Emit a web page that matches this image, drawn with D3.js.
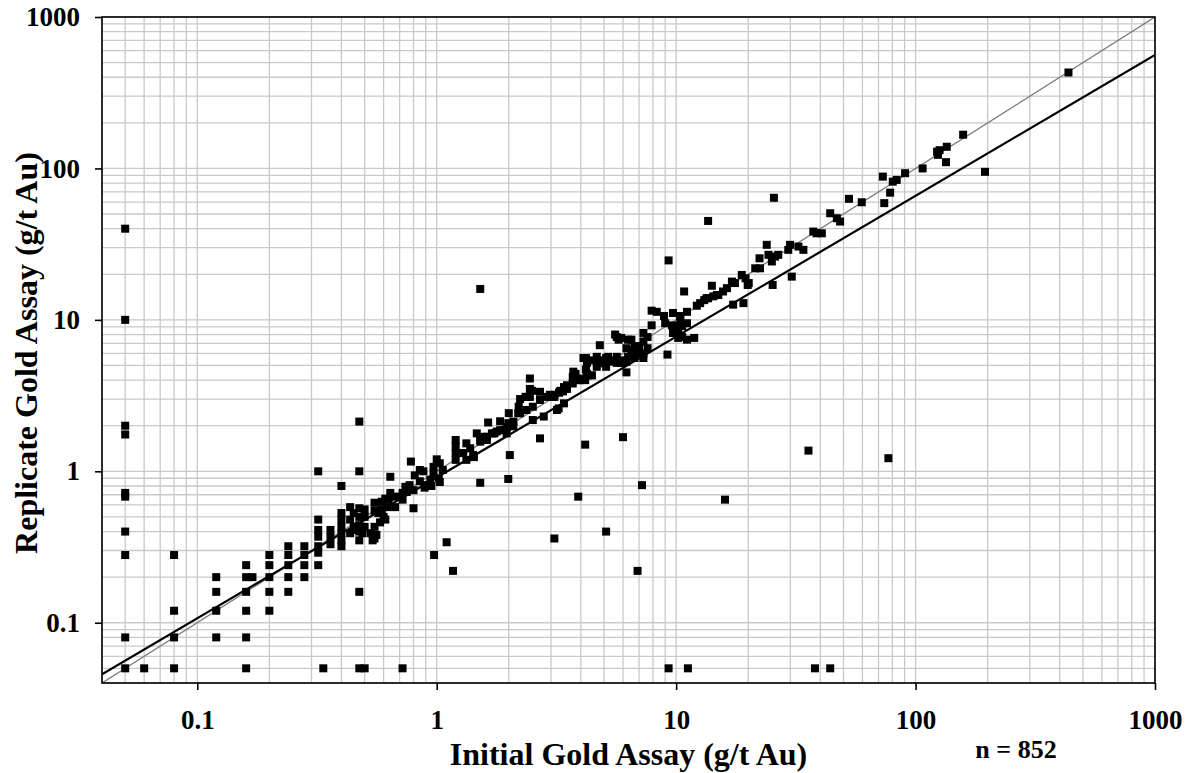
<!DOCTYPE html>
<html>
<head>
<meta charset="utf-8">
<script src="https://cdn.jsdelivr.net/npm/d3@7"></script>
<style>
  html, body { margin: 0; padding: 0; background: #fff; }
  svg { display: block; }
  text { font-family: "Liberation Serif", "Times New Roman", serif; font-weight: bold; fill: #000; }
</style>
</head>
<body>
<svg id="chart" width="1192" height="773"></svg>
<script>
// Axis setup (g/t Au, log scale on both axes)
const axisDomain = [0.04, 1000];
const majorTicks = [0.1, 1, 10, 100, 1000];
const tickLabels = ["0.1", "1", "10", "100", "1000"];
const xTitle = "Initial Gold Assay (g/t Au)";
const yTitle = "Replicate Gold Assay (g/t Au)";
const sampleCount = 852;

// Fitted line: replicate = fitCoef * initial ^ fitExponent
const fitCoef = 0.91;
const fitExponent = 0.93;

// [initial, replicate] pairs near the detection limit
const lowPairs = [
  [0.05, 40], [0.05, 10], [0.05, 2.0], [0.05, 1.75], [0.05, 0.72], [0.05, 0.68],
  [0.05, 0.4], [0.05, 0.28], [0.05, 0.08], [0.05, 0.05], [0.06, 0.05],
  [0.08, 0.28], [0.08, 0.12], [0.08, 0.08], [0.08, 0.05],
  [0.12, 0.2], [0.12, 0.16], [0.12, 0.12], [0.12, 0.08],
  [0.16, 0.24], [0.16, 0.2], [0.17, 0.2], [0.16, 0.16], [0.16, 0.12], [0.16, 0.08], [0.16, 0.05],
  [0.2, 0.28], [0.2, 0.24], [0.2, 0.2], [0.2, 0.16], [0.2, 0.12],
  [0.24, 0.32], [0.24, 0.28], [0.24, 0.24], [0.24, 0.2], [0.24, 0.16],
  [0.28, 0.32], [0.28, 0.28], [0.28, 0.24], [0.28, 0.2],
  [0.32, 1.0], [0.32, 0.48], [0.32, 0.41], [0.32, 0.37], [0.32, 0.32], [0.32, 0.29], [0.32, 0.24],
  [0.36, 0.41], [0.36, 0.37], [0.36, 0.33],
  [0.4, 0.8], [0.4, 0.53], [0.4, 0.48], [0.4, 0.43], [0.4, 0.39], [0.4, 0.35], [0.4, 0.32],
  [0.435, 0.58], [0.45, 0.53], [0.435, 0.48], [0.45, 0.43], [0.435, 0.39], [0.46, 0.41],
  [0.475, 2.13], [0.475, 1.0], [0.475, 0.57], [0.475, 0.5], [0.475, 0.44], [0.475, 0.4],
  [0.475, 0.35], [0.475, 0.16], [0.475, 0.05], [0.5, 0.05], [0.336, 0.05], [0.72, 0.05],
  [0.49, 0.39], [0.5, 0.43], [0.53, 0.39], [0.56, 0.38], [0.54, 0.35], [0.5, 0.56], [0.5, 0.5]
];

// [initial, replicate] pairs between about 0.5 and 4 g/t
const midPairs = [
  [0.55, 0.62], [0.55, 0.55], [0.55, 0.43], [0.55, 0.36],
  [0.57, 0.53], [0.58, 0.46], [0.59, 0.56], [0.59, 0.63], [0.6, 0.5], [0.61, 0.48],
  [0.61, 0.66], [0.62, 0.58], [0.63, 0.65], [0.64, 0.72], [0.66, 0.68], [0.67, 0.58],
  [0.64, 0.92], [0.7, 0.68], [0.72, 0.72], [0.72, 0.65], [0.74, 0.79], [0.75, 0.73],
  [0.77, 0.81], [0.8, 0.75], [0.81, 0.94], [0.85, 1.02], [0.85, 0.86],
  [0.78, 1.16], [0.8, 0.57], [0.88, 1.0],
  [1.0, 1.2], [1.03, 1.13], [0.97, 1.07], [1.06, 1.02], [0.97, 0.97], [1.02, 0.9],
  [0.94, 0.88], [1.03, 0.85], [0.91, 0.81], [0.89, 0.78], [0.95, 0.8],
  [1.2, 1.61], [1.2, 1.46], [1.2, 1.32], [1.2, 1.19],
  [1.64, 2.1], [1.84, 2.14], [1.99, 2.08], [2.09, 1.98], [2.19, 2.42],
  [1.47, 1.78], [1.57, 1.69], [1.52, 1.57], [1.62, 1.61], [1.7, 1.78], [1.78, 1.83],
  [1.9, 1.87], [1.96, 1.78], [1.33, 1.53], [1.38, 1.42], [1.29, 1.32], [1.42, 1.28],
  [1.33, 1.19], [1.43, 1.24], [1.52, 1.61], [1.62, 1.69], [1.74, 1.78], [1.84, 1.87], [1.96, 1.96],
  [2.09, 2.13], [2.23, 2.42], [2.37, 2.54], [2.52, 2.67], [2.7, 2.96], [2.88, 3.1],
  [3.27, 3.37], [3.7, 3.8], [2.52, 2.18], [2.8, 2.3], [3.18, 2.54], [3.4, 2.81],
  [2.37, 3.1], [2.2, 2.67], [2.0, 2.42], [2.23, 3.0],
  [2.45, 4.1], [2.45, 3.5], [2.45, 3.1], [2.5, 3.4], [2.7, 3.35], [2.35, 3.1],
  [2.97, 3.2], [3.1, 3.1], [3.5, 3.5], [3.3, 3.4], [3.24, 3.3],
  [3.4, 3.6], [3.5, 3.7], [3.37, 3.37], [3.1, 3.2], [3.05, 3.1], [3.23, 2.6]
];

// [initial, replicate] pairs from about 4 to 20 g/t
const upperPairs = [
  [4.2, 4.7], [4.3, 4.3], [4.0, 4.1], [3.8, 4.4], [3.7, 4.2], [3.9, 4.0],
  [3.72, 4.55], [3.78, 4.2], [3.97, 4.0], [4.24, 4.4], [4.45, 4.3], [4.17, 4.0],
  [4.2, 5.6], [4.8, 6.8], [4.1, 5.6], [4.24, 5.2], [4.5, 5.4], [4.66, 4.9], [4.97, 5.2],
  [5.2, 5.7], [5.35, 5.4], [5.65, 5.7], [5.65, 5.2], [5.95, 5.4], [6.2, 4.5],
  [4.66, 5.7], [4.9, 5.4], [5.1, 5.6], [4.8, 5.2], [5.1, 4.9], [5.5, 5.3], [5.9, 5.2], [6.2, 5.3],
  [6.3, 7.4], [5.65, 7.7], [5.75, 7.4], [6.2, 6.5], [6.5, 6.3], [6.9, 6.1], [6.3, 5.7], [6.7, 5.6],
  [5.56, 8.0], [5.9, 7.6], [6.5, 7.4], [6.7, 6.7], [7.0, 6.0],
  [7.3, 8.2], [7.6, 7.7], [7.3, 7.2], [7.6, 6.5], [7.3, 6.0], [7.0, 6.7], [7.3, 5.6],
  [7.9, 11.5], [8.3, 11.3], [8.9, 10.6], [9.7, 11.1], [10.4, 10.6], [11.1, 11.3],
  [9.0, 9.5], [9.6, 9.2], [10.4, 10.0], [11.1, 9.5], [10.6, 9.1], [7.9, 9.2],
  [9.7, 8.2], [10.2, 7.6], [11.9, 7.6], [9.2, 5.9],
  [10.0, 9.1], [10.2, 8.5], [9.7, 8.2], [10.6, 7.7], [11.1, 7.4],
  [12.2, 12.4], [12.6, 12.9], [13.1, 13.5], [13.4, 13.9], [13.6, 13.9], [14.3, 14.3],
  [14.8, 14.6], [15.0, 14.6], [15.7, 15.4], [16.3, 16.2], [14.1, 16.8],
  [17.1, 17.9], [17.6, 17.5], [17.3, 12.6], [19.1, 12.9], [19.9, 17],
  [18.8, 19.8], [19.5, 18.8], [20.1, 17.5]
];

// [initial, replicate] pairs above 20 g/t
const highPairs = [
  [21.4, 21.9], [22.4, 21.9], [22.3, 25.5], [24.3, 26.9], [26.7, 26.9], [25.1, 24.3],
  [25.9, 26.2], [25.3, 17], [30.4, 19.3], [23.9, 31.3],
  [29.9, 31.3], [29.4, 29], [32.4, 30.5], [34, 29],
  [37.4, 38.3], [38.6, 37.3], [40.6, 37.3], [44, 50.6], [46.9, 46.9], [48.4, 44.6],
  [52.7, 63], [59.6, 59.8], [74, 59], [78.3, 69.2], [73, 88.3], [80.3, 81.8], [83.4, 84],
  [90.4, 93], [107, 100], [134, 110], [124, 123], [123, 129], [126, 132], [135, 139],
  [158, 167], [435, 430]
];

// Pairs far from the 1:1 line
const outlierPairs = [
  [1.52, 16], [13.6, 45], [9.3, 24.7], [10.8, 15.4], [25.6, 64], [195, 95],
  [1.52, 0.84], [2.02, 1.28], [1.99, 0.89], [2.7, 1.65], [3.1, 0.36], [3.9, 0.68],
  [0.975, 0.28], [1.1, 0.34], [1.17, 0.22],
  [4.17, 1.5], [6.0, 1.68], [35.7, 1.37], [7.2, 0.81], [16, 0.65], [5.1, 0.40],
  [6.9, 0.22], [9.3, 0.05], [11.2, 0.05], [38, 0.05], [44, 0.05], [77, 1.22]
];

const allPairs = [].concat(lowPairs, midPairs, upperPairs, highPairs, outlierPairs);

const svg = d3.select("#chart");
const plot = { left: 102, right: 1155, top: 17, bottom: 683 };

const x = d3.scaleLog().domain(axisDomain).range([plot.left, plot.right]);
const y = d3.scaleLog().domain(axisDomain).range([plot.bottom, plot.top]);

svg.append("defs").append("clipPath").attr("id", "plot-clip")
  .append("rect")
  .attr("x", plot.left).attr("y", plot.top)
  .attr("width", plot.right - plot.left).attr("height", plot.bottom - plot.top);

// Grid at every 1..9 multiple of each decade
const grid = svg.append("g").attr("stroke", "#c9c9c9").attr("stroke-width", 1.3);
grid.selectAll("line.v").data(x.ticks()).join("line")
  .attr("class", "v")
  .attr("x1", d => x(d)).attr("x2", d => x(d))
  .attr("y1", plot.top).attr("y2", plot.bottom);
grid.selectAll("line.h").data(y.ticks()).join("line")
  .attr("class", "h")
  .attr("y1", d => y(d)).attr("y2", d => y(d))
  .attr("x1", plot.left).attr("x2", plot.right);

// Reference lines
const lines = svg.append("g").attr("clip-path", "url(#plot-clip)").attr("fill", "none");
const lineGen = d3.line().x(d => x(d[0])).y(d => y(d[1]));
lines.append("path")
  .datum(axisDomain.map(v => [v, v]))
  .attr("d", lineGen)
  .attr("stroke", "#7a7a7a").attr("stroke-width", 1.3);
lines.append("path")
  .datum(axisDomain.map(v => [v, fitCoef * Math.pow(v, fitExponent)]))
  .attr("d", lineGen)
  .attr("stroke", "#000").attr("stroke-width", 2.2);

// Assay pairs
const size = 8;
svg.append("g").attr("clip-path", "url(#plot-clip)")
  .selectAll("rect").data(allPairs).join("rect")
  .attr("x", d => x(d[0]) - size / 2)
  .attr("y", d => y(d[1]) - size / 2)
  .attr("width", size).attr("height", size)
  .attr("fill", "#000");

// Frame
svg.append("rect")
  .attr("x", plot.left).attr("y", plot.top)
  .attr("width", plot.right - plot.left).attr("height", plot.bottom - plot.top)
  .attr("fill", "none").attr("stroke", "#000").attr("stroke-width", 1.6);

// Axes
const fmt = d => tickLabels[majorTicks.indexOf(d)];
const xAxis = svg.append("g")
  .attr("transform", `translate(0,${plot.bottom})`)
  .call(d3.axisBottom(x).tickValues(majorTicks).tickFormat(fmt).tickSizeOuter(0).tickSize(7).tickPadding(20));
const yAxis = svg.append("g")
  .attr("transform", `translate(${plot.left},0)`)
  .call(d3.axisLeft(y).tickValues(majorTicks).tickFormat(fmt).tickSizeOuter(0).tickSize(7).tickPadding(15));
[xAxis, yAxis].forEach(g => {
  g.select(".domain").remove();
  g.selectAll(".tick line").attr("stroke", "#000").attr("stroke-width", 1.6);
  g.selectAll(".tick text")
    .attr("fill", "#000")
    .style("font-family", "'Liberation Serif', 'Times New Roman', serif")
    .style("font-weight", "bold")
    .style("font-size", "27px");
});

// Titles
svg.append("text")
  .attr("x", (plot.left + plot.right) / 2).attr("y", 765)
  .attr("text-anchor", "middle")
  .style("font-size", "32px")
  .text(xTitle);
svg.append("text")
  .attr("transform", `translate(37,${(plot.top + plot.bottom) / 2 + 3}) rotate(-90)`)
  .attr("text-anchor", "middle")
  .style("font-size", "32px")
  .text(yTitle);
svg.append("text")
  .attr("x", 1016).attr("y", 758)
  .attr("text-anchor", "middle")
  .style("font-size", "26px")
  .text(`n = ${sampleCount}`);
</script>
</body>
</html>
